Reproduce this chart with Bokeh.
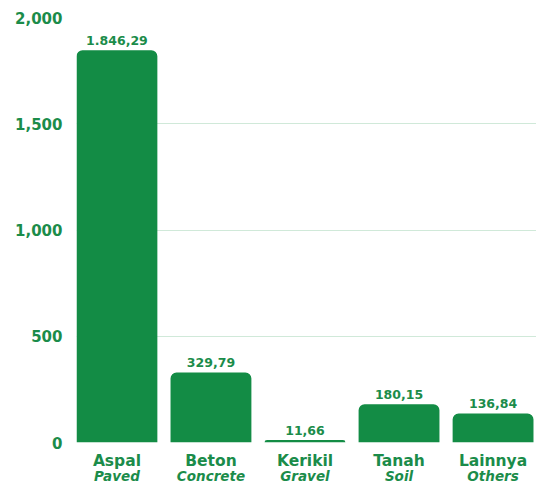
from bokeh.plotting import figure
from bokeh.models import FixedTicker, NumeralTickFormatter, LinearAxis, ColumnDataSource, Range1d
from bokeh.core.properties import value
from bokeh.embed import file_html
from bokeh.resources import INLINE

categories = ["Aspal", "Beton", "Kerikil", "Tanah", "Lainnya"]
categories_en = ["Paved", "Concrete", "Gravel", "Soil", "Others"]
values = [1846.29, 329.79, 11.66, 180.15, 136.84]
y_ticks = [0, 500, 1000, 1500, 2000]

GREEN = "#138c45"
TEXT = "#1b8c4a"
GRID = "#d0e9d9"
FONT = "DejaVu Sans"

def fmt_id(v):
    s = f"{v:,.2f}"
    return s.replace(",", "X").replace(".", ",").replace("X", ".")

xs = list(range(len(categories)))
src = ColumnDataSource(dict(x=xs, top=values, label=[fmt_id(v) for v in values]))

p = figure(width=536, height=486, output_backend="svg", toolbar_location=None,
           x_range=Range1d(-0.43, 4.462), y_range=Range1d(0, 2000),
           min_border_left=76, min_border_right=0, min_border_top=17, min_border_bottom=40)
p.outline_line_color = None
p.background_fill_color = "white"
p.border_fill_color = "white"

p.vbar(x="x", top="top", bottom=0, width=0.86, source=src, fill_color=GREEN,
       line_color=None, border_radius=[6, 6, 0, 0])
p.text(x="x", y="top", text="label", source=src, text_align="center",
       text_baseline="alphabetic", y_offset=-10, text_color=TEXT,
       text_font=value(FONT), text_font_size="12.5px", text_font_style="bold")

# y axis
p.yaxis.ticker = FixedTicker(ticks=y_ticks)
p.yaxis.formatter = NumeralTickFormatter(format="0,0")
p.yaxis.axis_line_color = None
p.yaxis.major_tick_line_color = None
p.yaxis.minor_tick_line_color = None
p.yaxis.major_tick_out = 0
p.yaxis.major_tick_in = 0
p.yaxis.minor_tick_out = 0
p.yaxis.major_label_text_color = TEXT
p.yaxis.major_label_text_font = FONT
p.yaxis.major_label_text_font_size = "15px"
p.yaxis.major_label_text_font_style = "bold"
p.yaxis.major_label_standoff = 14

p.ygrid.ticker = FixedTicker(ticks=y_ticks)
p.ygrid.grid_line_color = GRID
p.ygrid.grid_line_width = 1.2
p.xgrid.grid_line_color = None

def style_x(a, size, style, standoff):
    a.axis_line_color = None
    a.major_tick_line_color = None
    a.minor_tick_line_color = None
    a.major_tick_out = 0
    a.major_tick_in = 0
    a.minor_tick_out = 0
    a.minor_tick_in = 0
    a.major_label_text_color = TEXT
    a.major_label_text_font = FONT
    a.major_label_text_font_size = size
    a.major_label_text_font_style = style
    a.major_label_standoff = standoff

# x axes: two stacked
ax = p.xaxis[0]
ax.ticker = FixedTicker(ticks=xs)
ax.major_label_overrides = {i: c for i, c in enumerate(categories)}
style_x(ax, "15.5px", "bold", 9)

ax2 = LinearAxis(ticker=FixedTicker(ticks=xs),
                 major_label_overrides={i: c for i, c in enumerate(categories_en)})
style_x(ax2, "13.5px", "bold italic", -5)
p.add_layout(ax2, "below")

open("out.html", "w").write(file_html(p, INLINE))
